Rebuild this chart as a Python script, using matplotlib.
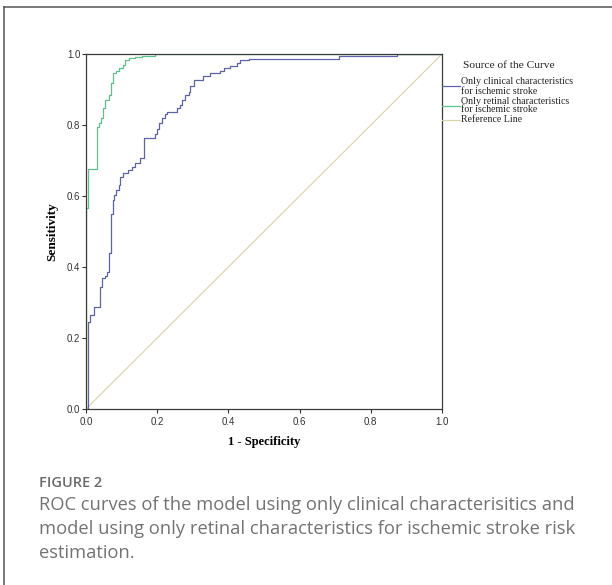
import matplotlib
matplotlib.use('Agg')

import matplotlib.pyplot as plt
from matplotlib.lines import Line2D

# ROC step corners (1 - specificity, sensitivity), drawn with steps-post
clinical_fpr = [0, 0.005, 0.010, 0.023, 0.040, 0.045, 0.054, 0.059, 0.064, 0.070,
                0.075, 0.080, 0.085, 0.092, 0.096, 0.104, 0.117, 0.129, 0.138, 0.153,
                0.164, 0.195, 0.199, 0.204, 0.213, 0.223, 0.227, 0.255, 0.265, 0.270,
                0.279, 0.288, 0.293, 0.304, 0.330, 0.349, 0.377, 0.387, 0.405, 0.424,
                0.433, 0.457, 0.710, 0.874, 1.0]
clinical_tpr = [0, 0.246, 0.265, 0.286, 0.345, 0.370, 0.375, 0.387, 0.439, 0.550,
                0.590, 0.603, 0.617, 0.630, 0.654, 0.664, 0.673, 0.683, 0.692, 0.706,
                0.762, 0.776, 0.790, 0.805, 0.819, 0.831, 0.837, 0.847, 0.856, 0.870,
                0.884, 0.894, 0.909, 0.927, 0.937, 0.946, 0.951, 0.960, 0.965, 0.974,
                0.983, 0.986, 0.993, 1.0, 1.0]

retinal_fpr = [0, 0.0, 0.007, 0.031, 0.036, 0.042, 0.048, 0.054, 0.064, 0.070,
               0.076, 0.085, 0.094, 0.104, 0.110, 0.120, 0.138, 0.157, 0.195, 1.0]
retinal_tpr = [0, 0.567, 0.675, 0.793, 0.805, 0.819, 0.847, 0.870, 0.885, 0.917,
               0.946, 0.952, 0.960, 0.969, 0.983, 0.988, 0.991, 0.995, 1.0, 1.0]

ref_line = [0, 1]
ticks = [0.0, 0.2, 0.4, 0.6, 0.8, 1.0]

legend_title = "Source of the Curve"
legend_labels = [["Only clinical characteristics", "for ischemic stroke"],
                 ["Only retinal characteristics", "for ischemic stroke"],
                 ["Reference Line"]]

caption_head = "FIGURE 2"
caption_lines = ["ROC curves of the model using only clinical characterisitics and",
                 "model using only retinal characteristics for ischemic stroke risk",
                 "estimation."]

BLUE = "#5c63a9"
GREEN = "#5cc28a"
REF = "#d9d3a3"

W, H = 612, 585
fig = plt.figure(figsize=(W / 100, H / 100), dpi=100)


def fx(px):
    return px / W


def fy(py):
    return 1 - py / H


ax = fig.add_axes([fx(86), fy(409), (442 - 86) / W, (409 - 54) / H])

ax.plot(ref_line, ref_line, color=REF, lw=0.8)
ax.plot(clinical_fpr, clinical_tpr, drawstyle='steps-post', color=BLUE, lw=0.9)
ax.plot(retinal_fpr, retinal_tpr, drawstyle='steps-post', color=GREEN, lw=0.9)

ax.set_xlim(0, 1)
ax.set_ylim(0, 1)
ax.set_xticks(ticks)
ax.set_yticks(ticks)
ax.set_xticklabels([f"{t:.1f}" for t in ticks])
ax.set_yticklabels([f"{t:.1f}" for t in ticks])
ax.tick_params(direction='out', length=3, width=0.8, color='#333333',
               labelsize=7, labelcolor='#333333')
ax.tick_params(axis='y', pad=1)
ax.tick_params(axis='x', pad=3)
for lab in ax.get_xticklabels() + ax.get_yticklabels():
    lab.set_family('Liberation Sans')
for s in ax.spines.values():
    s.set_color('#3a3a3a')
    s.set_linewidth(0.9)

ax.set_xlabel("1 - Specificity", family='Liberation Serif', weight='bold',
              fontsize=9, va='center')
ax.xaxis.set_label_coords(0.5, -0.093)
ax.set_ylabel("Sensitivity", family='Liberation Serif', weight='bold',
              fontsize=9.5, va='center')
ax.yaxis.set_label_coords(-0.095, 0.5)

# legend drawn by hand to the right of the plot
fig.text(fx(463), fy(66), legend_title, family='Liberation Serif', fontsize=8.2,
         va='center', ha='left', color='#222222')
line_y = [86, 106, 120]
text_y = [[82, 91], [101, 110], [120]]
for col, ly, labs, tys in zip([BLUE, GREEN, REF], line_y, legend_labels, text_y):
    fig.add_artist(Line2D([fx(442), fx(460)], [fy(ly), fy(ly)], color=col, lw=0.9))
    for lab, ty in zip(labs, tys):
        fig.text(fx(461), fy(ty), lab, family='Liberation Serif', fontsize=7.1,
                 va='center', ha='left', color='#222222')

# open frame of the figure panel
fig.add_artist(Line2D([fx(4), fx(612)], [fy(7), fy(7)], color='#555555', lw=1.1))
fig.add_artist(Line2D([fx(4), fx(4)], [fy(7), fy(585)], color='#555555', lw=1.1))

fig.text(fx(39), fy(483), caption_head, family='Open Sans', weight='semibold',
         fontsize=10.5, color='#6b6b6b', va='center', ha='left')
for line, ty in zip(caption_lines, [505, 529, 553]):
    fig.text(fx(39), fy(ty), line, family='Open Sans', fontsize=13.2,
             color='#737373', va='center', ha='left')

fig.savefig("out.png", dpi=100)
